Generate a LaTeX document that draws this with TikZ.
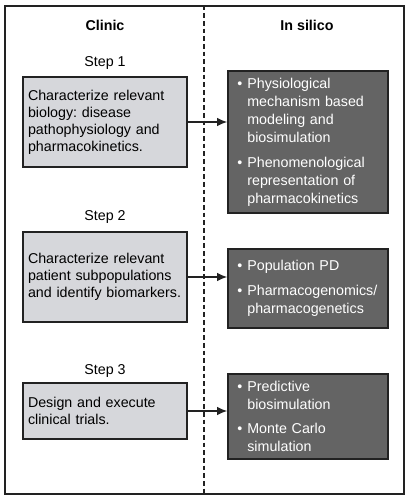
\documentclass[tikz,border=0pt]{standalone}
\usepackage{fontspec}
\setmainfont{Liberation Sans}
\usepackage{xcolor}
\usetikzlibrary{positioning}
\usetikzlibrary{arrows.meta}
\definecolor{clinicgray}{RGB}{214,215,219}
\definecolor{silicogray}{RGB}{100,100,100}
\definecolor{edgegray}{RGB}{34,34,34}
\newcommand{\blt}{\makebox[7.5pt][l]{\textbullet}}
\newcommand{\ind}{\hspace*{7.5pt}}
\frenchspacing

\begin{document}
\begin{tikzpicture}[x=0.75pt, y=-0.75pt, font=\fontsize{10.7}{12.75}\selectfont,
  clinicbox/.style={draw=edgegray, line width=1.2pt, fill=clinicgray, text width=115.5pt, inner xsep=3.75pt, align=left},
  silicobox/.style={draw=edgegray, line width=1.2pt, fill=silicogray, text=white, text width=106pt, inner xsep=7pt, align=left, font=\fontsize{10.7}{13.5}\selectfont},
  steplabel/.style={inner sep=1pt},
  linkarrow/.style={-{Latex[length=7.5pt,width=6.5pt]}, edgegray, line width=1.2pt}]
  \useasboundingbox (0,0) rectangle (407,500);
  \draw[edgegray, line width=1.5pt] (4.5,5.5) rectangle (404,494);
  \draw[edgegray, line width=1.2pt, dash pattern=on 3.5pt off 2.25pt] (204,5.5) -- (204,494);
\node[font=\fontsize{10.7}{12.75}\selectfont\bfseries] (clinic) at (105,25) {Clinic};
\node[font=\fontsize{10.7}{12.75}\selectfont\bfseries] (insilico) at (307,25) {In silico};
  % clinic side
\node[clinicbox, minimum height=67.5pt] (lbox1) at (105,122) {Characterize relevant\\ biology: disease\\ pathophysiology and\\ pharmacokinetics.};
\node[clinicbox, minimum height=67.5pt] (lbox2) at (105,277) {Characterize relevant\\ patient subpopulations\\ and identify biomarkers.};
\node[clinicbox, minimum height=42pt] (lbox3) at (105,411) {Design and execute\\ clinical trials.};
\node[steplabel, above=3.5pt of lbox1] (step1) {Step 1};
\node[steplabel, above=4.5pt of lbox2] (step2) {Step 2};
\node[steplabel, above=2.5pt of lbox3] (step3) {Step 3};
  % in silico side
\node[silicobox, minimum height=106.5pt] (rbox1) at (308,142) {\blt Physiological\\ \ind mechanism based\\ \ind modeling and\\ \ind biosimulation\\[5pt] \blt Phenomenological\\ \ind representation of\\ \ind pharmacokinetics};
\node[silicobox, minimum height=59.25pt] (rbox2) at (308,288.5) {\blt Population PD\\[5pt] \blt Pharmacogenomics/\\ \ind pharmacogenetics};
\node[silicobox, minimum height=63.75pt] (rbox3) at (308,416.5) {\blt Predictive\\ \ind biosimulation\\[5pt] \blt Monte Carlo\\ \ind simulation};
  \draw[linkarrow] (lbox1.east) -- (lbox1.east -| rbox1.west);
  \draw[linkarrow] (lbox2.east) -- (lbox2.east -| rbox2.west);
  \draw[linkarrow] (lbox3.east) -- (lbox3.east -| rbox3.west);
 \end{tikzpicture}
\end{document}
